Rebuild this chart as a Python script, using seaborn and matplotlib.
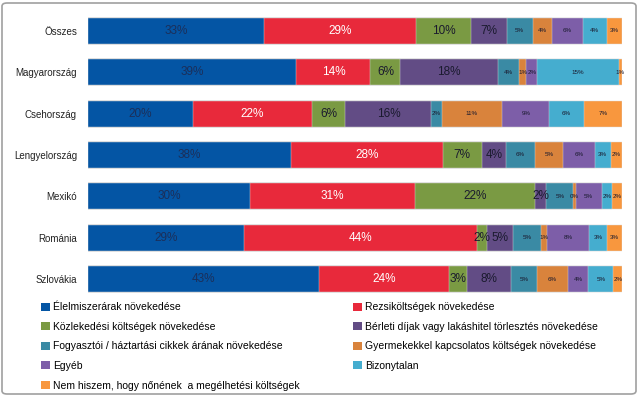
import numpy as np
import pandas as pd
import matplotlib
matplotlib.use('Agg')
import matplotlib.pyplot as plt
import seaborn as sns
from matplotlib.patches import FancyBboxPatch, Patch

# Data (shares in %)
countries = ['Összes', 'Magyarország', 'Csehország', 'Lengyelország', 'Mexikó', 'Románia', 'Szlovákia']

categories = [
    'Élelmiszerárak növekedése',
    'Rezsiköltségek növekedése',
    'Közlekedési költségek növekedése',
    'Bérleti díjak vagy lakáshitel törlesztés növekedése',
    'Fogyasztói / háztartási cikkek árának növekedése',
    'Gyermekekkel kapcsolatos költségek növekedése',
    'Egyéb',
    'Bizonytalan',
    'Nem hiszem, hogy nőnének  a megélhetési költségek',
]

elelmiszer = [32.9, 39.0, 19.7, 38.0, 30.3, 29.2, 43.3]
rezsi = [28.6, 13.9, 22.2, 28.4, 31.0, 43.7, 24.3]
kozlekedes = [10.3, 5.6, 6.3, 7.4, 22.4, 1.9, 3.4]
berleti = [6.6, 18.3, 16.1, 4.4, 2.1, 4.7, 8.2]
fogyasztoi = [4.9, 4.0, 1.9, 5.6, 5.1, 5.4, 4.9]
gyermek = [3.6, 1.3, 11.4, 5.1, 0.4, 1.1, 5.7]
egyeb = [5.8, 2.0, 8.8, 6.0, 4.9, 7.9, 3.9]
bizonytalan = [4.4, 15.3, 6.4, 3.0, 2.0, 3.3, 4.7]
nem_hiszem = [2.9, 0.6, 7.2, 2.1, 1.8, 2.8, 1.6]

series = [elelmiszer, rezsi, kozlekedes, berleti, fogyasztoi, gyermek, egyeb, bizonytalan, nem_hiszem]

colors = ['#0455A4', '#E8293B', '#7A9A43', '#624C85', '#3A8AA4',
          '#D9833C', '#7D5EA8', '#45ADCF', '#F8973E']

df = pd.DataFrame(np.array(series).T, columns=categories)
df['country'] = countries
cum = df[categories].cumsum(axis=1)

plt.rcParams['font.family'] = ['Liberation Sans', 'DejaVu Sans']

fig = plt.figure(figsize=(6.4, 3.96), dpi=100)
ax = fig.add_axes([88 / 640, 96 / 396, 534 / 640, 290 / 396])

# stacked bars: draw cumulative totals from back to front
for i in reversed(range(len(categories))):
    sns.barplot(x=cum[categories[i]], y=df['country'], orient='h', color=colors[i],
                width=0.63, edgecolor='#dddddd', linewidth=0.3, ax=ax, saturation=1)

# segment labels
for i, cat in enumerate(categories):
    for j in range(len(countries)):
        val = df[cat][j]
        left = cum[cat][j] - val
        if i < 4:
            fs = 8.5
        else:
            fs = 4.5
        tc = 'white' if i == 1 else ('#1b2f5a' if i == 0 else '#1a1a2e')
        ax.text(left + val / 2, j, f'{round(val):.0f}%', ha='center', va='center',
                fontsize=fs, color=tc)

ax.set_xlim(0, 100)
ax.set_ylim(6.5, -0.5)
ax.set_xlabel('')
ax.set_ylabel('')
ax.set_xticks([])
ax.tick_params(axis='y', length=0, labelsize=7, pad=8, colors='#222222')
for s in ax.spines.values():
    s.set_visible(False)

# legend in two columns (row order like the original)
handles = [Patch(facecolor=c, edgecolor='none') for c in colors]
order = [0, 2, 4, 6, 8, 1, 3, 5, 7]
fig.legend([handles[k] for k in order], [categories[k] for k in order],
           ncol=2, loc='upper left', bbox_to_anchor=(36 / 640, 1 - 297 / 396),
           frameon=False, fontsize=7.5, handlelength=0.8, handleheight=0.8,
           handletextpad=0.3, labelspacing=0.92, columnspacing=5.2, borderpad=0)

# outer frame
frame = FancyBboxPatch((2 / 640, 2 / 396), 634 / 640, 391 / 396,
                       boxstyle='round,pad=0,rounding_size=0.008',
                       transform=fig.transFigure, fill=False,
                       edgecolor='#a0a0a0', linewidth=1.2)
fig.patches.append(frame)

fig.savefig('out.png', dpi=100)
